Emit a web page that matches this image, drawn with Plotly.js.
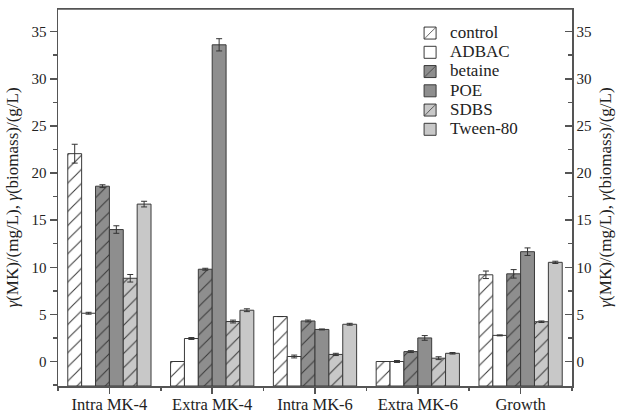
<!DOCTYPE html>
<html>
<head>
<meta charset="utf-8">
<script src="https://cdn.plot.ly/plotly-3.0.1.min.js"></script>
<style>html,body{margin:0;padding:0;background:#fff;}#chart{width:617px;height:414px;}</style>
</head>
<body>
<div id="chart"></div>
<script>
const categories = ["Intra MK-4", "Extra MK-4", "Intra MK-6", "Extra MK-6", "Growth"];
const seriesNames = ["control", "ADBAC", "betaine", "POE", "SDBS", "Tween-80"];
const control   = [22.05, 0.0, 4.77, 0.0, 9.2];
const controlErr= [1.0, 0.0, 0.0, 0.0, 0.4];
const adbac     = [5.12, 2.44, 0.53, 0.0, 2.77];
const adbacErr  = [0.1, 0.1, 0.15, 0.1, 0.05];
const betaine   = [18.6, 9.79, 4.3, 1.05, 9.3];
const betaineErr= [0.15, 0.1, 0.1, 0.1, 0.45];
const poe       = [14.0, 33.6, 3.4, 2.5, 11.65];
const poeErr    = [0.4, 0.65, 0.05, 0.25, 0.4];
const sdbs      = [8.83, 4.24, 0.75, 0.35, 4.22];
const sdbsErr   = [0.4, 0.15, 0.12, 0.15, 0.08];
const tween     = [16.7, 5.44, 3.95, 0.87, 10.52];
const tweenErr  = [0.3, 0.15, 0.1, 0.08, 0.12];

const yrange = [-2.6, 37.4];
const barBase = yrange[0];
const xpos = categories.map((c, i) => i);
const values = [control, adbac, betaine, poe, sdbs, tween];
const errors = [controlErr, adbacErr, betaineErr, poeErr, sdbsErr, tweenErr];
const fills = ["#ffffff", "#ffffff", "#8e8e8e", "#8e8e8e", "#c8c8c8", "#c8c8c8"];
const hatched = [true, false, true, false, true, false];

const FONT = "'Liberation Serif', 'Times New Roman', serif";
const traces = seriesNames.map((name, k) => {
  const marker = {color: fills[k], line: {color: "#3a3a3a", width: 1}};
  if (hatched[k]) marker.pattern = {shape: "/", fgcolor: "#3a3a3a", bgcolor: fills[k], size: 10, solidity: 0.1, fillmode: "replace"};
  return {
    type: "bar", name: '<span style="font-size:17px">' + name + '</span>',
    x: xpos, base: barBase,
    y: values[k].map(v => v - barBase),
    marker: marker,
    error_y: {type: "data", array: errors[k], visible: true, color: "#333", thickness: 1, width: 3}
  };
});
traces.push({type: "scatter", x: [0], y: [0], yaxis: "y2", mode: "markers",
  marker: {opacity: 0}, showlegend: false, hoverinfo: "skip"});

const yTitle = "<i>γ</i>(MK)/(mg/L), <i>γ</i>(biomass)/(g/L)";
const axisCol = "#555";
const layout = {
  width: 617, height: 414,
  margin: {l: 58, r: 45, t: 9, b: 28},
  paper_bgcolor: "#fff", plot_bgcolor: "#fff",
  font: {family: FONT, size: 15, color: "#222"},
  barmode: "group", bargap: 0.19, bargroupgap: 0,
  showlegend: true,
  legend: {x: 0.685, y: 0.975, xanchor: "left", yanchor: "top", bgcolor: "rgba(0,0,0,0)",
    font: {family: FONT, size: 12.5, color: "#222"}, tracegroupgap: 0},
  shapes: [{type: "line", xref: "paper", yref: "paper", x0: 0, x1: 1, y0: 1, y1: 1,
    line: {color: axisCol, width: 1.5}}],
  xaxis: {
    range: [-0.5, 4.5], tickvals: xpos, ticktext: categories,
    showline: true, linecolor: axisCol, linewidth: 1.5, mirror: true,
    ticks: "outside", ticklen: 6, tickcolor: axisCol, tickwidth: 1.5,
    ticklabelstandoff: -3,
    minor: {tick0: 0.5, dtick: 1, ticks: "outside", ticklen: 3, tickcolor: axisCol, tickwidth: 1.5},
    showgrid: false, zeroline: false, tickfont: {family: FONT, size: 16.5}
  },
  yaxis: {
    range: yrange, dtick: 5, tick0: 0,
    showline: true, linecolor: axisCol, linewidth: 1.5,
    ticks: "outside", ticklen: 7, tickcolor: axisCol, tickwidth: 1.5,
    minor: {dtick: 2.5, ticks: "outside", ticklen: 4, tickcolor: axisCol, tickwidth: 1.5},
    showgrid: false, zeroline: false, tickfont: {family: FONT, size: 15},
    title: {text: yTitle, font: {family: FONT, size: 17}, standoff: 8}
  },
  yaxis2: {
    overlaying: "y", side: "right", range: yrange, dtick: 5, tick0: 0,
    showline: true, linecolor: axisCol, linewidth: 1.5,
    ticks: "inside", ticklen: 7, tickcolor: axisCol, tickwidth: 1.5,
    minor: {dtick: 2.5, ticks: "inside", ticklen: 4, tickcolor: axisCol, tickwidth: 1.5},
    showgrid: false, zeroline: false, tickfont: {family: FONT, size: 15},
    title: {text: yTitle, font: {family: FONT, size: 17}, standoff: 8}
  }
};
Plotly.newPlot("chart", traces, layout, {displayModeBar: false, staticPlot: true});
</script>
</body>
</html>
